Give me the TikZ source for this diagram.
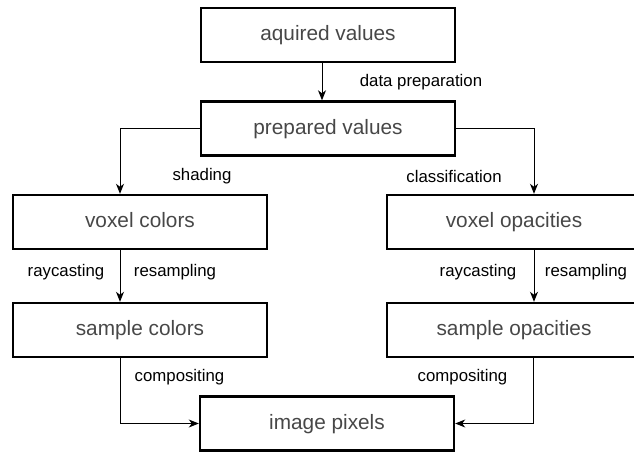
\documentclass[tikz,border=0pt]{standalone}
\usepackage{fontspec}
\setmainfont{Liberation Sans}
\usetikzlibrary{arrows.meta}

\tikzset{
    stage/.style={draw, line width=2.4pt, minimum width=254pt, minimum height=54pt,
        inner sep=0pt, text height=15pt, text depth=4pt, text=black!72,
        font=\fontsize{20.8}{24}\selectfont},
    flow/.style={line width=1pt, -{Stealth[length=10pt,width=8pt,inset=3pt]}},
    step label/.style={font=\fontsize{16.8}{20}\selectfont, inner sep=0pt}
}

\begin{document}
\begin{tikzpicture}[x=1pt, y=-1pt]
    \useasboundingbox (0,0) rectangle (634,452);

    \node[stage] (acquired) at (328,35) {aquired values};
    \node[stage] (prepared) at (328,128.5) {prepared values};

    \node[stage] (voxcol) at (140,222) {voxel colors};
    \node[stage] (voxop) at (514,222) {voxel opacities};

    \node[stage] (smpcol) at (140,330) {sample colors};
    \node[stage] (smpop) at (514,330) {sample opacities};

    \node[stage] (pixels) at (327,423.5) {image pixels};

    \draw[flow] ([xshift=-6pt]acquired.south) -- ([xshift=-6pt]prepared.north);
    \node[step label] (dataprep) at (421,82) {data preparation};

    \draw[flow] (prepared.west) -| ([xshift=-20pt]voxcol.north);
    \draw[flow] (prepared.east) -| ([xshift=20pt]voxop.north);
    \node[step label] (shading) at (202,176) {shading};
    \node[step label] (classif) at (454,176) {classification};

    \draw[flow] ([xshift=-20pt]voxcol.south) -- ([xshift=-20pt]smpcol.north);
    \draw[flow] ([xshift=20pt]voxop.south) -- ([xshift=20pt]smpop.north);
    \node[step label] (raycastl) at (66,272) {raycasting};
    \node[step label] (resampl) at (175,272) {resampling};
    \node[step label] (raycastr) at (478,272) {raycasting};
    \node[step label] (resampr) at (586,272) {resampling};

    \draw[flow] ([xshift=-20pt]smpcol.south) |- (pixels.west);
    \draw[flow] ([xshift=19pt]smpop.south) |- (pixels.east);
    \node[step label] (compl) at (179.5,377) {compositing};
    \node[step label] (compr) at (462.5,377) {compositing};

\end{tikzpicture}
\end{document}
